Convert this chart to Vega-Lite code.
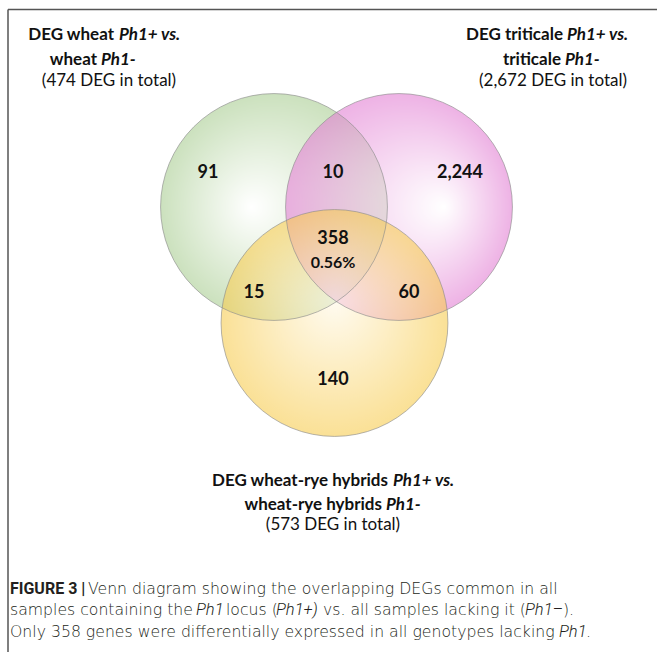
{
  "$schema": "https://vega.github.io/schema/vega-lite/v6.json",
  "width": 657,
  "height": 652,
  "autosize": "none",
  "padding": 0,
  "background": "white",
  "config": {"view": {"stroke": null}},
  "datasets": {
    "frame": [
      {"x": 8, "y": 9.5, "x2": 657, "y2": 9.5},
      {"x": 8, "y": 9.5, "x2": 8, "y2": 652}
    ],
    "circles": [
      {"set": "wheat", "cx": 274, "cy": 207},
      {"set": "triticale", "cx": 399, "cy": 207},
      {"set": "hybrids", "cx": 334.5, "cy": 323}
    ],
    "counts": [
      {"label": "91", "x": 208, "y": 178},
      {"label": "10", "x": 333, "y": 178},
      {"label": "2,244", "x": 460, "y": 178},
      {"label": "358", "x": 333, "y": 244},
      {"label": "15", "x": 254, "y": 298},
      {"label": "60", "x": 409, "y": 298},
      {"label": "140", "x": 333, "y": 385}
    ],
    "pct": [{"label": "0.56%", "x": 333, "y": 268}],
    "titleBold": [
      {"t": "DEG wheat", "x": 114, "y": 40},
      {"t": "wheat", "x": 97, "y": 65},
      {"t": "DEG triticale", "x": 563, "y": 40},
      {"t": "triticale", "x": 561, "y": 65},
      {"t": "DEG wheat-rye hybrids", "x": 388, "y": 486},
      {"t": "wheat-rye hybrids", "x": 382, "y": 510}
    ],
    "titleItalic": [
      {"t": "Ph1+ vs.", "x": 119, "y": 40},
      {"t": "Ph1-", "x": 101, "y": 65},
      {"t": "Ph1+ vs.", "x": 567, "y": 40},
      {"t": "Ph1-", "x": 565, "y": 65},
      {"t": "Ph1+ vs.", "x": 393, "y": 486},
      {"t": "Ph1-", "x": 386, "y": 510}
    ],
    "titleTotals": [
      {"t": "(474 DEG in total)", "x": 109, "y": 86},
      {"t": "(2,672 DEG in total)", "x": 553, "y": 86},
      {"t": "(573 DEG in total)", "x": 333, "y": 530}
    ],
    "capBold": [{"t": "FIGURE 3 |", "x": 10, "y": 594}],
    "capNormal": [
      {"t": "Venn diagram showing the overlapping DEGs common in all", "x": 88, "y": 594},
      {"t": "samples containing the", "x": 10, "y": 615},
      {"t": "locus (", "x": 226, "y": 615},
      {"t": "vs. all samples lacking it (", "x": 323, "y": 615},
      {"t": ").", "x": 563, "y": 615},
      {"t": "Only 358 genes were differentially expressed in all genotypes lacking", "x": 10, "y": 637},
      {"t": ".", "x": 586, "y": 637}
    ],
    "capItalic": [
      {"t": "Ph1", "x": 196, "y": 615},
      {"t": "Ph1+)", "x": 276, "y": 615},
      {"t": "Ph1–", "x": 525, "y": 615},
      {"t": "Ph1", "x": 559, "y": 637}
    ]
  },
  "layer": [
    {
      "data": {"name": "frame"},
      "mark": {"type": "rule", "color": "#555555", "strokeWidth": 1.5},
      "encoding": {
        "x": {"field": "x", "type": "quantitative", "scale": {"domain": [0, 657], "nice": false, "zero": false}, "axis": null},
        "y": {"field": "y", "type": "quantitative", "scale": {"domain": [0, 652], "nice": false, "zero": false, "reverse": true}, "axis": null},
        "x2": {"field": "x2"},
        "y2": {"field": "y2"}
      }
    },
    {
      "data": {"name": "circles"},
      "transform": [{"filter": "datum.set === 'wheat'"}],
      "mark": {"type": "circle", "size": 51472, "opacity": 1, "fillOpacity": 0.6,
        "fill": {"gradient": "radial", "x1": 0.4, "y1": 0.5, "r1": 0, "x2": 0.5, "y2": 0.5, "r2": 0.5,
          "stops": [{"offset": 0, "color": "#ffffff"}, {"offset": 1, "color": "#a9cd92"}]}},
      "encoding": {
        "x": {"field": "cx", "type": "quantitative"},
        "y": {"field": "cy", "type": "quantitative"}
      }
    },
    {
      "data": {"name": "circles"},
      "transform": [{"filter": "datum.set === 'triticale'"}],
      "mark": {"type": "circle", "size": 51472, "opacity": 1, "fillOpacity": 0.6,
        "fill": {"gradient": "radial", "x1": 0.7, "y1": 0.5, "r1": 0, "x2": 0.5, "y2": 0.5, "r2": 0.5,
          "stops": [{"offset": 0, "color": "#ffffff"}, {"offset": 1, "color": "#e27fd3"}]}},
      "encoding": {
        "x": {"field": "cx", "type": "quantitative"},
        "y": {"field": "cy", "type": "quantitative"}
      }
    },
    {
      "data": {"name": "circles"},
      "transform": [{"filter": "datum.set === 'hybrids'"}],
      "mark": {"type": "circle", "size": 51472, "opacity": 1, "fillOpacity": 0.6,
        "fill": {"gradient": "radial", "x1": 0.5, "y1": 0.4, "r1": 0, "x2": 0.5, "y2": 0.5, "r2": 0.5,
          "stops": [{"offset": 0, "color": "#fff8e6"}, {"offset": 1, "color": "#f7cc50"}]}},
      "encoding": {
        "x": {"field": "cx", "type": "quantitative"},
        "y": {"field": "cy", "type": "quantitative"}
      }
    },
    {
      "data": {"name": "circles"},
      "mark": {"type": "circle", "size": 51472, "filled": false, "fill": null, "stroke": "#8c8c8c", "strokeWidth": 1, "strokeOpacity": 0.9},
      "encoding": {
        "x": {"field": "cx", "type": "quantitative"},
        "y": {"field": "cy", "type": "quantitative"}
      }
    },
    {
      "data": {"name": "counts"},
      "mark": {"type": "text", "font": "Lato", "fontWeight": "bold", "fontSize": 18, "align": "center", "baseline": "alphabetic", "color": "#111111"},
      "encoding": {
        "x": {"field": "x", "type": "quantitative"},
        "y": {"field": "y", "type": "quantitative"},
        "text": {"field": "label"}
      }
    },
    {
      "data": {"name": "pct"},
      "mark": {"type": "text", "font": "Lato", "fontWeight": "bold", "fontSize": 16, "align": "center", "baseline": "alphabetic", "color": "#111111"},
      "encoding": {
        "x": {"field": "x", "type": "quantitative"},
        "y": {"field": "y", "type": "quantitative"},
        "text": {"field": "label"}
      }
    },
    {
      "data": {"name": "titleBold"},
      "mark": {"type": "text", "font": "Lato", "fontWeight": "bold", "fontSize": 17, "align": "right", "baseline": "alphabetic", "color": "#111111"},
      "encoding": {
        "x": {"field": "x", "type": "quantitative"},
        "y": {"field": "y", "type": "quantitative"},
        "text": {"field": "t"}
      }
    },
    {
      "data": {"name": "titleItalic"},
      "mark": {"type": "text", "font": "Lato", "fontWeight": "bold", "fontStyle": "italic", "fontSize": 17, "align": "left", "baseline": "alphabetic", "color": "#111111"},
      "encoding": {
        "x": {"field": "x", "type": "quantitative"},
        "y": {"field": "y", "type": "quantitative"},
        "text": {"field": "t"}
      }
    },
    {
      "data": {"name": "titleTotals"},
      "mark": {"type": "text", "font": "Lato", "fontSize": 17, "align": "center", "baseline": "alphabetic", "color": "#111111"},
      "encoding": {
        "x": {"field": "x", "type": "quantitative"},
        "y": {"field": "y", "type": "quantitative"},
        "text": {"field": "t"}
      }
    },
    {
      "data": {"name": "capBold"},
      "mark": {"type": "text", "font": "Roboto", "fontWeight": "bold", "fontSize": 16, "align": "left", "baseline": "alphabetic", "color": "#231f20"},
      "encoding": {
        "x": {"field": "x", "type": "quantitative"},
        "y": {"field": "y", "type": "quantitative"},
        "text": {"field": "t"}
      }
    },
    {
      "data": {"name": "capNormal"},
      "mark": {"type": "text", "font": "DejaVu Sans", "fontWeight": 200, "fontSize": 15.7, "align": "left", "baseline": "alphabetic", "color": "#231f20"},
      "encoding": {
        "x": {"field": "x", "type": "quantitative"},
        "y": {"field": "y", "type": "quantitative"},
        "text": {"field": "t"}
      }
    },
    {
      "data": {"name": "capItalic"},
      "mark": {"type": "text", "font": "Roboto", "fontWeight": 300, "fontStyle": "italic", "fontSize": 16.5, "align": "left", "baseline": "alphabetic", "color": "#231f20"},
      "encoding": {
        "x": {"field": "x", "type": "quantitative"},
        "y": {"field": "y", "type": "quantitative"},
        "text": {"field": "t"}
      }
    }
  ]
}
